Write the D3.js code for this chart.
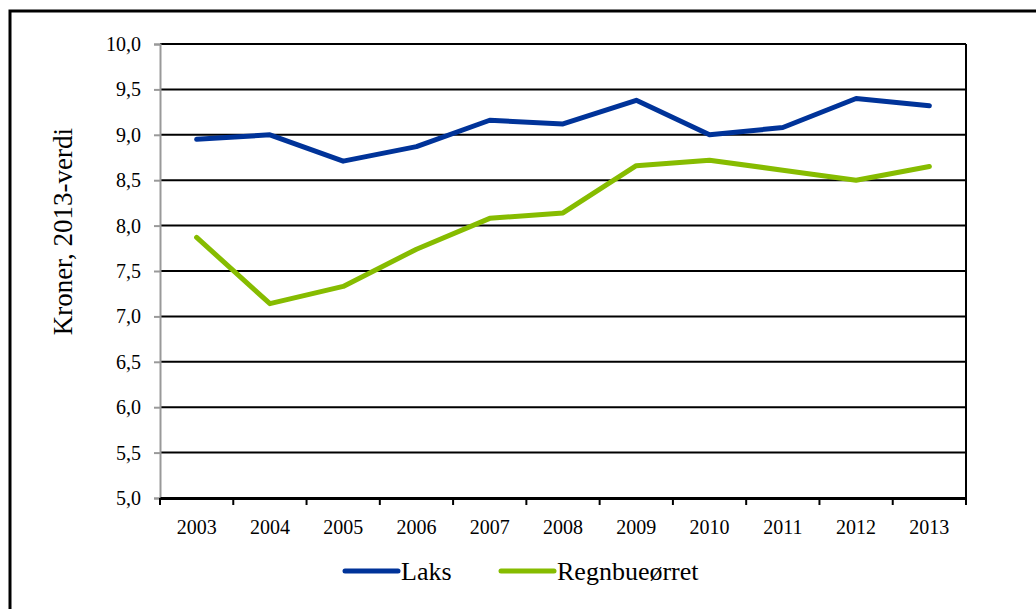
<!DOCTYPE html>
<html>
<head>
<meta charset="utf-8">
<script src="https://cdn.jsdelivr.net/npm/d3@7"></script>
<style>
  body { margin: 0; background: #fff; }
  svg text { font-family: "Liberation Serif", "DejaVu Serif", serif; fill: #000; }
</style>
</head>
<body>
<div id="chart"></div>
<script>
// år og verdier lest av figuren
const years = ["2003","2004","2005","2006","2007","2008","2009","2010","2011","2012","2013"];
const laks = [8.95, 9.00, 8.71, 8.87, 9.16, 9.12, 9.38, 9.00, 9.08, 9.40, 9.32];
const regnbue = [7.87, 7.14, 7.33, 7.74, 8.08, 8.14, 8.66, 8.72, 8.61, 8.50, 8.65];
const yTicks = [5.0, 5.5, 6.0, 6.5, 7.0, 7.5, 8.0, 8.5, 9.0, 9.5, 10.0];
const seriesNames = ["Laks", "Regnbueørret"];
const colors = ["#003399", "#86bc00"];

const W = 1036, H = 609;
const margin = {top: 44, right: 70, bottom: 111, left: 160};
const width = W - margin.left - margin.right;
const height = H - margin.top - margin.bottom;

const svg = d3.select("#chart").append("svg")
    .attr("width", W)
    .attr("height", H);

// ramme rundt figuren
svg.append("rect")
    .attr("x", 10).attr("y", 11)
    .attr("width", W + 20).attr("height", H + 20)
    .attr("fill", "none")
    .attr("stroke", "#000")
    .attr("stroke-width", 3);

const g = svg.append("g")
    .attr("transform", `translate(${margin.left},${margin.top})`);

const x = d3.scaleBand().domain(years).range([0, width]);
const y = d3.scaleLinear().domain([5, 10]).range([height, 0]);
const fmt = d => d3.format(".1f")(d).replace(".", ",");

// rutenett
g.selectAll("line.grid")
    .data(yTicks.slice(1))
    .enter().append("line")
    .attr("x1", 0).attr("x2", width)
    .attr("y1", d => y(d)).attr("y2", d => y(d))
    .attr("stroke", "#000")
    .attr("stroke-width", 2);

// høyre kant av plottet
g.append("line")
    .attr("x1", width).attr("x2", width)
    .attr("y1", 0).attr("y2", height)
    .attr("stroke", "#000").attr("stroke-width", 2);

// y-akse
const yAxis = g.append("g")
    .call(d3.axisLeft(y).tickValues(yTicks).tickFormat(fmt).tickSize(6).tickPadding(13));
yAxis.select(".domain").attr("stroke", "#999").attr("stroke-width", 2);
yAxis.selectAll(".tick line").attr("stroke", "#999").attr("stroke-width", 2);
yAxis.selectAll("text").attr("font-size", 20);

// x-akse
const xAxis = g.append("g")
    .attr("transform", `translate(0,${height})`)
    .call(d3.axisBottom(x).tickSize(0).tickPadding(22));
xAxis.select(".domain").attr("stroke", "#000").attr("stroke-width", 3);
xAxis.selectAll("text").attr("font-size", 20);

// tikk mellom kategoriene
const bounds = years.map(d => x(d)).concat([width]);
g.selectAll("line.xtick")
    .data(bounds)
    .enter().append("line")
    .attr("x1", d => d).attr("x2", d => d)
    .attr("y1", height).attr("y2", height + 7)
    .attr("stroke", "#000").attr("stroke-width", 2);

// linjer
const line = d3.line()
    .x((d, i) => x(years[i]) + x.bandwidth() / 2)
    .y(d => y(d));

[laks, regnbue].forEach((s, k) => {
  g.append("path")
      .datum(s)
      .attr("fill", "none")
      .attr("stroke", colors[k])
      .attr("stroke-width", 5)
      .attr("stroke-linejoin", "round")
      .attr("stroke-linecap", "round")
      .attr("d", line);
});

// y-tittel
svg.append("text")
    .attr("transform", "translate(72,128) rotate(-90)")
    .attr("text-anchor", "end")
    .attr("font-size", 27)
    .text("Kroner, 2013-verdi");

// legende
const legendX = [345, 501];
const leg = svg.selectAll("g.leg")
    .data(seriesNames)
    .enter().append("g")
    .attr("transform", (d, i) => `translate(${legendX[i]},571)`);
leg.append("line")
    .attr("x1", 0).attr("x2", 53)
    .attr("stroke", (d, i) => colors[i])
    .attr("stroke-width", 5)
    .attr("stroke-linecap", "round");
leg.append("text")
    .attr("x", 56).attr("y", 9)
    .attr("font-size", 26)
    .text(d => d);
</script>
</body>
</html>
